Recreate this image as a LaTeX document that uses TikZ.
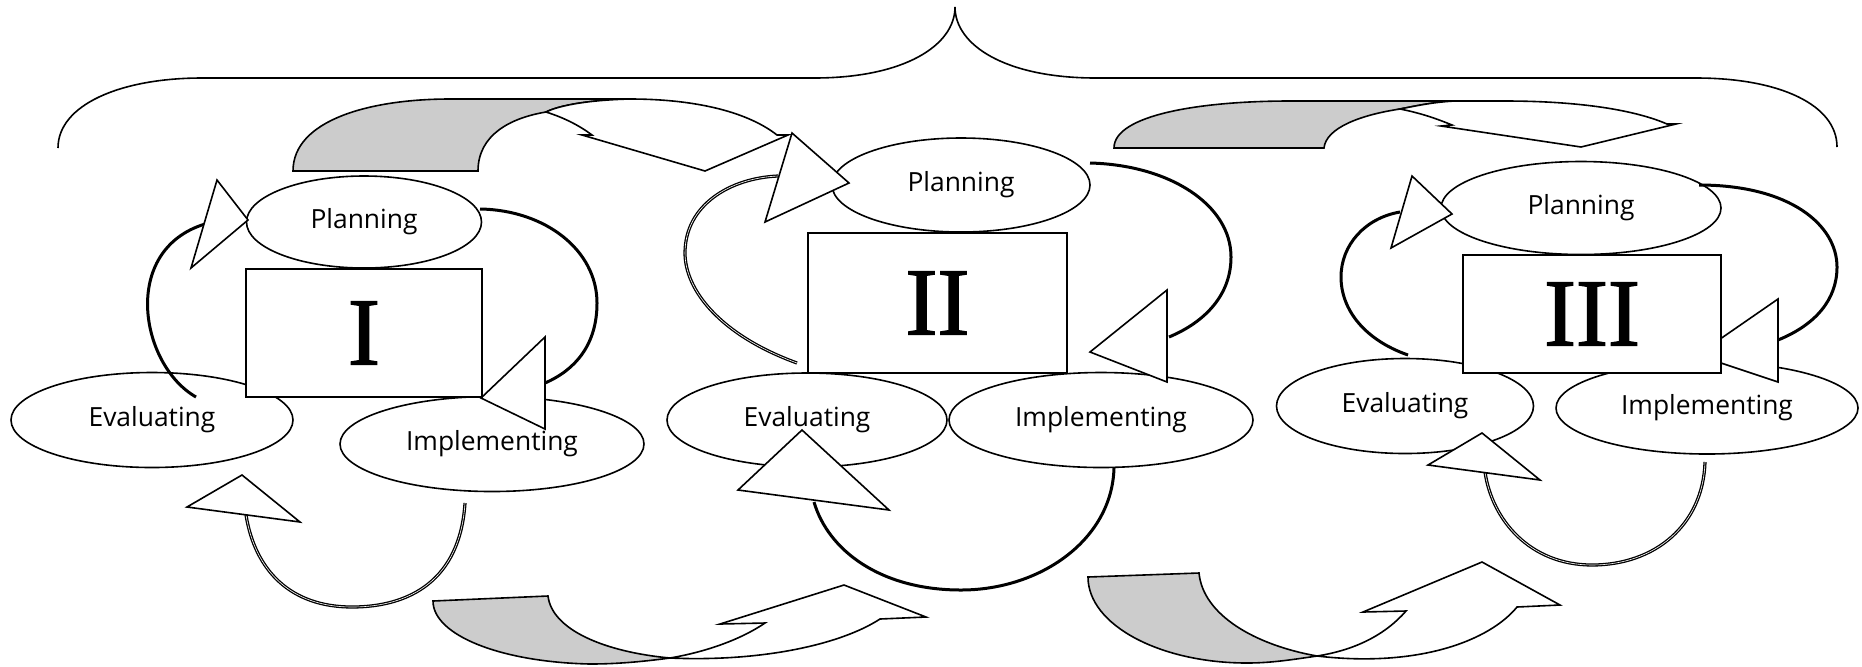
\documentclass[tikz,border=0pt]{standalone}
\usepackage{fontspec}
\setmainfont{Open Sans}
\newfontfamily\numfont[FakeBold=1.6]{Liberation Serif}
\usepackage{tikz}
\usetikzlibrary{shapes.geometric}

\tikzset{
  stage/.style={ellipse, draw, fill=white, line width=0.8pt, inner sep=0pt,
    font=\fontsize{13.2}{15}\selectfont},
  phase/.style={rectangle, draw, fill=white, line width=0.8pt, inner sep=0pt,
    font=\numfont\fontsize{48}{50}\selectfont},
  thickloop/.style={line width=1.5pt},
  dblloop/.style={double, double distance=0.3pt, line width=0.65pt},
  head/.style={draw, fill=white, line width=0.8pt, line join=miter},
  ribbon/.style={draw, line width=0.8pt, line join=miter},
}

\begin{document}
\begin{tikzpicture}[x=0.5pt, y=-0.5pt]
\useasboundingbox (0,0) rectangle (1862,666);

% brace
\draw[line width=0.8pt] (58,148) .. controls (58,105) and (120,78) .. (202,78) -- (814,78)
  .. controls (905,78) and (955,45) .. (955,7) .. controls (955,45) and (1005,78) .. (1096,78)
  -- (1696,78) .. controls (1780,78) and (1837,105) .. (1837,147);

% stages
\node[stage, minimum width=117.5pt, minimum height=46pt] (planI) at (364,222) {Planning};
\node[stage, minimum width=141pt, minimum height=47.5pt] (evalI) at (152,420) {Evaluating};
\node[stage, minimum width=152pt, minimum height=47.5pt] (implI) at (492,444) {Implementing};

\node[stage, minimum width=129pt, minimum height=47pt] (planII) at (961,185) {Planning};
\node[stage, minimum width=140pt, minimum height=47pt] (evalII) at (807,420) {Evaluating};
\node[stage, minimum width=152pt, minimum height=47.5pt] (implII) at (1101,420) {Implementing};

\node[stage, minimum width=140pt, minimum height=46.5pt] (planIII) at (1581,208) {Planning};
\node[stage, minimum width=128.5pt, minimum height=47.5pt] (evalIII) at (1405,406) {Evaluating};
\node[stage, minimum width=151pt, minimum height=46pt] (implIII) at (1707,408) {Implementing};

% cycle I
\draw[thickloop] (196,397) .. controls (140,365) and (120,250) .. (205,224);
\draw[thickloop] (480,209) .. controls (545,210) and (597,250) .. (597,303)
  .. controls (597,345) and (575,370) .. (545,383);
\draw[dblloop] (465,503) .. controls (460,580) and (410,607) .. (352,607)
  .. controls (290,607) and (255,570) .. (246,515);
\draw[head] (217,180) -- (248,220) -- (191,268) -- cycle;
\draw[head] (545,337) -- (481,398) -- (545,429) -- cycle;
\draw[head] (242,475) -- (187,507) -- (300,522) -- cycle;

% cycle II
\draw[dblloop] (797,363) .. controls (720,335) and (685,290) .. (685,253)
  .. controls (685,205) and (730,178) .. (778,176);
\draw[thickloop] (1090,163) .. controls (1170,165) and (1231,205) .. (1231,257)
  .. controls (1231,295) and (1205,322) .. (1169,337);
\draw[thickloop] (1114,468) .. controls (1112,540) and (1040,590) .. (961,590)
  .. controls (880,590) and (828,550) .. (814,502);
\draw[head] (792,133) -- (849,183) -- (765,222) -- cycle;
\draw[head] (1167,290) -- (1090,352) -- (1167,382) -- cycle;
\draw[head] (802,430) -- (738,490) -- (889,510) -- cycle;

% cycle III
\draw[thickloop] (1408,355) .. controls (1365,340) and (1341,310) .. (1341,277)
  .. controls (1341,245) and (1365,218) .. (1400,212);
\draw[thickloop] (1699,185) .. controls (1790,185) and (1837,225) .. (1837,267)
  .. controls (1837,300) and (1815,325) .. (1778,340);
\draw[dblloop] (1705,462) .. controls (1703,525) and (1655,565) .. (1592,565)
  .. controls (1530,565) and (1492,520) .. (1485,472);
\draw[head] (1412,176) -- (1452,214) -- (1391,248) -- cycle;
\draw[head] (1778,299) -- (1697,355) -- (1778,382) -- cycle;
\draw[head] (1482,433) -- (1428,465) -- (1540,480) -- cycle;

% phases
\node[phase, minimum width=118pt, minimum height=64pt] (boxI) at (364,333) {I};
\node[phase, minimum width=129.5pt, minimum height=70pt] (boxII) at (937.5,303) {II};
\node[phase, minimum width=129pt, minimum height=59pt] (boxIII) at (1592,314) {III};

% curved arrows between phases
\draw[ribbon, fill=black!20] (293,171) .. controls (293,120) and (370,99) .. (450,99) -- (630,99)
  .. controls (590,100) and (560,105) .. (546,112) .. controls (510,118) and (478,135) .. (478,171) -- cycle;
\draw[ribbon, fill=white] (630,99) .. controls (690,99) and (745,110) .. (777,135) -- (788,135)
  -- (705,171) -- (582,135) -- (592,135) .. controls (580,126) and (565,118) .. (546,112)
  .. controls (560,105) and (590,100) .. (630,99) -- cycle;

\draw[ribbon, fill=black!20] (1114,148) .. controls (1114,115) and (1200,101) .. (1290,101) -- (1455,101)
  .. controls (1435,102) and (1420,105) .. (1400,109) .. controls (1360,115) and (1326,128) .. (1324,148) -- cycle;
\draw[ribbon, fill=white] (1455,101) -- (1505,101) .. controls (1570,101) and (1630,108) .. (1667,124)
  -- (1676,124) -- (1581,147) -- (1441,126) -- (1452,125) .. controls (1435,118) and (1420,113) .. (1400,109)
  .. controls (1420,105) and (1435,102) .. (1455,101) -- cycle;

\draw[ribbon, fill=black!20] (433,601) -- (548,596) .. controls (552,630) and (605,652) .. (670,658)
  .. controls (640,662) and (615,664) .. (590,664) .. controls (500,662) and (433,635) .. (433,601) -- cycle;
\draw[ribbon, fill=white] (670,658) .. controls (760,662) and (840,645) .. (880,619) -- (926,617)
  -- (844,585) -- (720,624) -- (765,623) .. controls (740,640) and (705,652) .. (670,658) -- cycle;

\draw[ribbon, fill=black!20] (1088,577) -- (1199,573) .. controls (1203,615) and (1255,645) .. (1317,656)
  .. controls (1290,660) and (1270,663) .. (1247,663) .. controls (1160,663) and (1088,625) .. (1088,577) -- cycle;
\draw[ribbon, fill=white] (1317,656) .. controls (1420,668) and (1490,640) .. (1517,607) -- (1560,605)
  -- (1482,562) -- (1363,612) -- (1406,611) .. controls (1385,635) and (1355,650) .. (1317,656) -- cycle;

\end{tikzpicture}
\end{document}
